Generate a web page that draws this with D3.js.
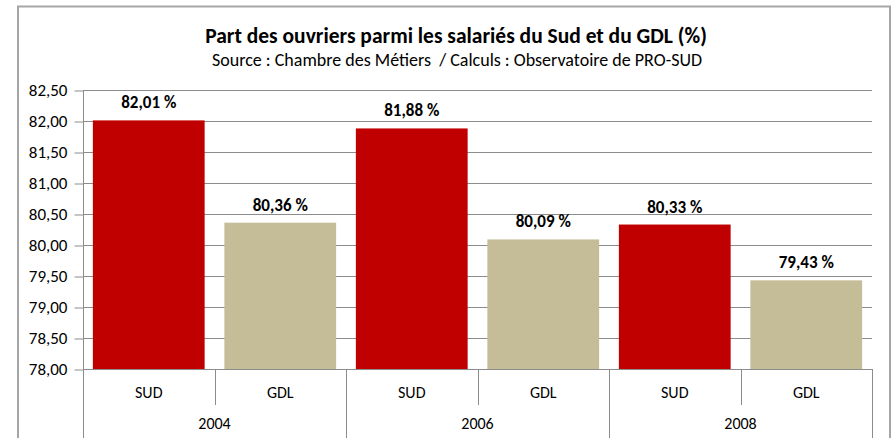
<!DOCTYPE html>
<html lang="fr">
<head>
<meta charset="UTF-8">
<title>Part des ouvriers</title>
<script src="https://cdn.jsdelivr.net/npm/d3@7"></script>
<style>
  body { margin: 0; background: #fff; }
  text { font-family: Carlito, Lato, "Liberation Sans", sans-serif; fill: #000; }
</style>
</head>
<body>
<script>
// valeurs
var years = ["2004", "2006", "2008"];
var regions = ["SUD", "GDL"];
var sudValues = [82.01, 81.88, 80.33];
var gdlValues = [80.36, 80.09, 79.43];
var yTicks = [78, 78.5, 79, 79.5, 80, 80.5, 81, 81.5, 82, 82.5];

var W = 896, H = 438;
var plotLeft = 83, plotRight = 872, plotTop = 90, plotBottom = 369;
var colors = { SUD: "#c00000", GDL: "#c4bd97" };
var fmt = function(v) { return d3.format(".2f")(v).replace(".", ","); };

var rows = [];
years.forEach(function(yr, i) {
  rows.push({ year: yr, region: "SUD", value: sudValues[i] });
  rows.push({ year: yr, region: "GDL", value: gdlValues[i] });
});

var svg = d3.select("body").append("svg").attr("width", W).attr("height", H);

// cadre
svg.append("rect").attr("x", 18).attr("y", 6.5).attr("width", 872).attr("height", 450)
  .attr("fill", "none").attr("stroke", "#a6a6a6").attr("stroke-width", 2);

var x0 = d3.scaleBand().domain(years).range([plotLeft, plotRight]);
var x1 = d3.scaleBand().domain(regions).range([0, x0.bandwidth()]).paddingInner(0.15).paddingOuter(0.075);
var y = d3.scaleLinear().domain([78, 82.5]).range([plotBottom, plotTop]);

// grille
svg.append("g").selectAll("line").data(yTicks.slice(1)).enter().append("line")
  .attr("x1", plotLeft).attr("x2", plotRight)
  .attr("y1", function(d) { return Math.round(y(d)) + 0.5; })
  .attr("y2", function(d) { return Math.round(y(d)) + 0.5; })
  .attr("stroke", "#8c8c8c").attr("stroke-width", 1);

// axe vertical
var yAxis = d3.axisLeft(y).tickValues(yTicks).tickSize(9).tickPadding(7).tickFormat(fmt);
var gy = svg.append("g").attr("transform", "translate(" + (plotLeft + 0.5) + ",0.5)").call(yAxis);
gy.select(".domain").attr("stroke", "#8c8c8c").attr("d", "M0," + plotTop + "V" + plotBottom);
gy.selectAll(".tick line").attr("stroke", "#8c8c8c");
gy.selectAll(".tick text").attr("font-size", 17).attr("fill", "#000")
  .style("font-family", "Carlito, Lato, 'Liberation Sans', sans-serif");

// barres
svg.append("g").selectAll("rect").data(rows).enter().append("rect")
  .attr("x", function(d) { return x0(d.year) + x1(d.region); })
  .attr("y", function(d) { return y(d.value); })
  .attr("width", x1.bandwidth())
  .attr("height", function(d) { return y(78) - y(d.value); })
  .attr("fill", function(d) { return colors[d.region]; });

// étiquettes
svg.append("g").selectAll("text").data(rows).enter().append("text")
  .attr("x", function(d) { return x0(d.year) + x1(d.region) + x1.bandwidth() / 2; })
  .attr("y", function(d) { return y(d.value) - 12; })
  .attr("text-anchor", "middle").attr("font-size", 17).attr("font-weight", "bold")
  .text(function(d) { return fmt(d.value) + " %"; });

// axe des catégories
var cat = svg.append("g").attr("stroke", "#8c8c8c").attr("stroke-width", 1);
cat.append("line").attr("x1", plotLeft).attr("x2", plotRight + 0.5)
  .attr("y1", plotBottom + 0.5).attr("y2", plotBottom + 0.5);
years.forEach(function(yr) {
  var xm = Math.round(x0(yr) + x0.bandwidth() / 2) + 0.5;
  cat.append("line").attr("x1", xm).attr("x2", xm).attr("y1", plotBottom).attr("y2", 405);
});
years.concat([null]).forEach(function(yr) {
  var xx = Math.round(yr ? x0(yr) : plotRight) + 0.5;
  cat.append("line").attr("x1", xx).attr("x2", xx).attr("y1", plotBottom).attr("y2", H);
});

var labels = svg.append("g");
rows.forEach(function(d) {
  labels.append("text")
    .attr("x", x0(d.year) + x1(d.region) + x1.bandwidth() / 2)
    .attr("y", 398).attr("text-anchor", "middle").attr("font-size", 16)
    .text(d.region);
});
years.forEach(function(yr) {
  labels.append("text").attr("x", x0(yr) + x0.bandwidth() / 2).attr("y", 429)
    .attr("text-anchor", "middle").attr("font-size", 16).text(yr);
});

// titres
svg.append("text").attr("x", 456).attr("y", 43).attr("text-anchor", "middle")
  .attr("font-size", 21.5).attr("font-weight", "bold")
  .text("Part des ouvriers parmi les salariés du Sud et du GDL (%)");
svg.append("text").attr("x", 457).attr("y", 66).attr("text-anchor", "middle")
  .attr("font-size", 18).style("white-space", "pre")
  .text("Source : Chambre des Métiers  / Calculs : Observatoire de PRO-SUD");
</script>
</body>
</html>
